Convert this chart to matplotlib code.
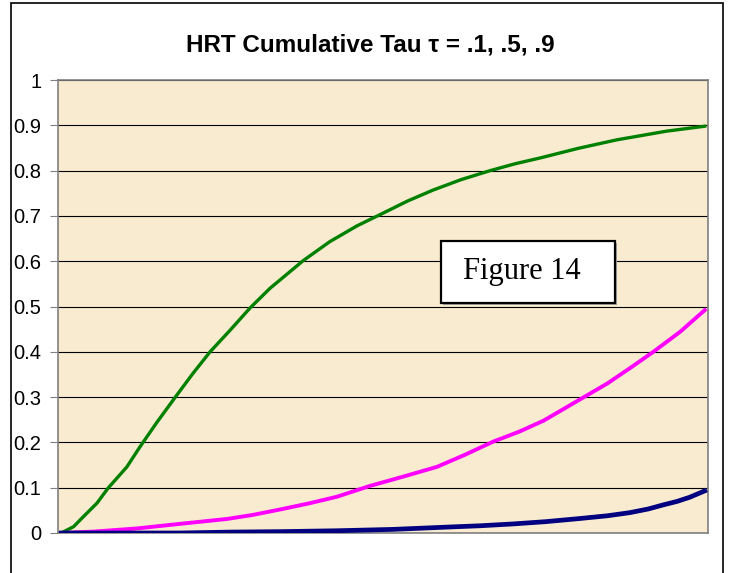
import matplotlib.pyplot as plt
from matplotlib.patches import Rectangle

# Data (x = position along the axis, 0-100)
x_90 = [0.5, 2.4, 3.9, 6.0, 7.7, 10.6, 12.6, 15.2, 18.0, 20.8, 23.4, 26.5, 29.5,
        32.6, 35.7, 37.7, 41.8, 46.0, 50.0, 53.8, 57.7, 62.0, 66.5, 70.3, 74.2,
        80.0, 86.0, 93.6, 99.5]
tau_90 = [0.0, 0.014, 0.036, 0.066, 0.099, 0.146, 0.190, 0.244, 0.299, 0.353, 0.400,
          0.448, 0.496, 0.540, 0.577, 0.601, 0.643, 0.678, 0.706, 0.733, 0.757, 0.780,
          0.800, 0.815, 0.828, 0.849, 0.868, 0.887, 0.898]

x_50 = [0.5, 5.4, 12.1, 19.3, 26.0, 30.0, 34.2, 38.5, 42.9, 48.0, 53.0, 58.3,
        62.5, 67.0, 71.0, 74.7, 80.8, 84.5, 88.0, 91.6, 95.7, 99.5]
tau_50 = [0.0, 0.003, 0.010, 0.021, 0.031, 0.040, 0.052, 0.065, 0.080, 0.104,
          0.124, 0.146, 0.172, 0.202, 0.224, 0.248, 0.299, 0.330, 0.364, 0.400,
          0.444, 0.492]

x_10 = [0.5, 18.8, 26.5, 34.2, 43.0, 51.6, 59.8, 65.0, 70.0, 75.0, 80.3, 84.5,
        88.0, 90.8, 93.1, 95.3, 97.2, 99.5]
tau_10 = [0.0, 0.0, 0.002, 0.003, 0.005, 0.008, 0.013, 0.016, 0.020, 0.025, 0.032,
          0.038, 0.045, 0.053, 0.062, 0.070, 0.079, 0.093]

y_ticks = [0, 0.1, 0.2, 0.3, 0.4, 0.5, 0.6, 0.7, 0.8, 0.9, 1]
y_labels = ["0", "0.1", "0.2", "0.3", "0.4", "0.5", "0.6", "0.7", "0.8", "0.9", "1"]

plt.rcParams['font.family'] = ['Liberation Sans', 'DejaVu Sans']

W, H = 731, 573
fig = plt.figure(figsize=(W / 100, H / 100), dpi=100)
fig.patch.set_facecolor('white')

# outer chart frame (bottom edge runs off the image)
fig.patches.append(Rectangle((10.7 / W, -0.05), (723 - 10.7) / W, 1.05 - 3.3 / H,
                             transform=fig.transFigure, fill=False,
                             edgecolor='black', linewidth=1.2))

ax = fig.add_axes([58 / W, 1 - 533 / H, 650 / W, 453 / H])
ax.set_facecolor('#F9EBCF')

ax.plot(x_90, tau_90, color='#008000', linewidth=2.4, zorder=3)
ax.plot(x_50, tau_50, color='#FF00FF', linewidth=2.8, zorder=3)
ax.plot(x_10, tau_10, color='#000080', linewidth=3.4, zorder=3)

ax.set_xlim(0, 100)
ax.set_ylim(0, 1)
ax.set_yticks(y_ticks)
ax.set_yticklabels(y_labels, fontsize=14.5)
ax.set_xticks([])
ax.tick_params(axis='y', length=6, color='#808080', pad=6)
ax.grid(True, axis='y', color='black', linewidth=0.8, zorder=1)
for s in ax.spines.values():
    s.set_color('#808080')
    s.set_linewidth(1.2)

fig.text(370 / W, 1 - 45 / H, "HRT Cumulative Tau \u03c4 = .1, .5, .9",
         ha='center', va='center', fontsize=17.5, fontweight='bold')

# "Figure 14" text box
fig.patches.append(Rectangle((443 / W, 1 - 305 / H), 174 / W, 62 / H,
                             transform=fig.transFigure, facecolor='#A0A0A0',
                             edgecolor='none', zorder=4))
fig.patches.append(Rectangle((441 / W, 1 - 303 / H), 174 / W, 62 / H,
                             transform=fig.transFigure, facecolor='white',
                             edgecolor='black', linewidth=1.6, zorder=5))
fig.text(522 / W, 1 - 272 / H, "Figure 14", ha='center', va='center',
         fontsize=22, family='Liberation Serif', zorder=6)

fig.savefig('out.png', dpi=100)
